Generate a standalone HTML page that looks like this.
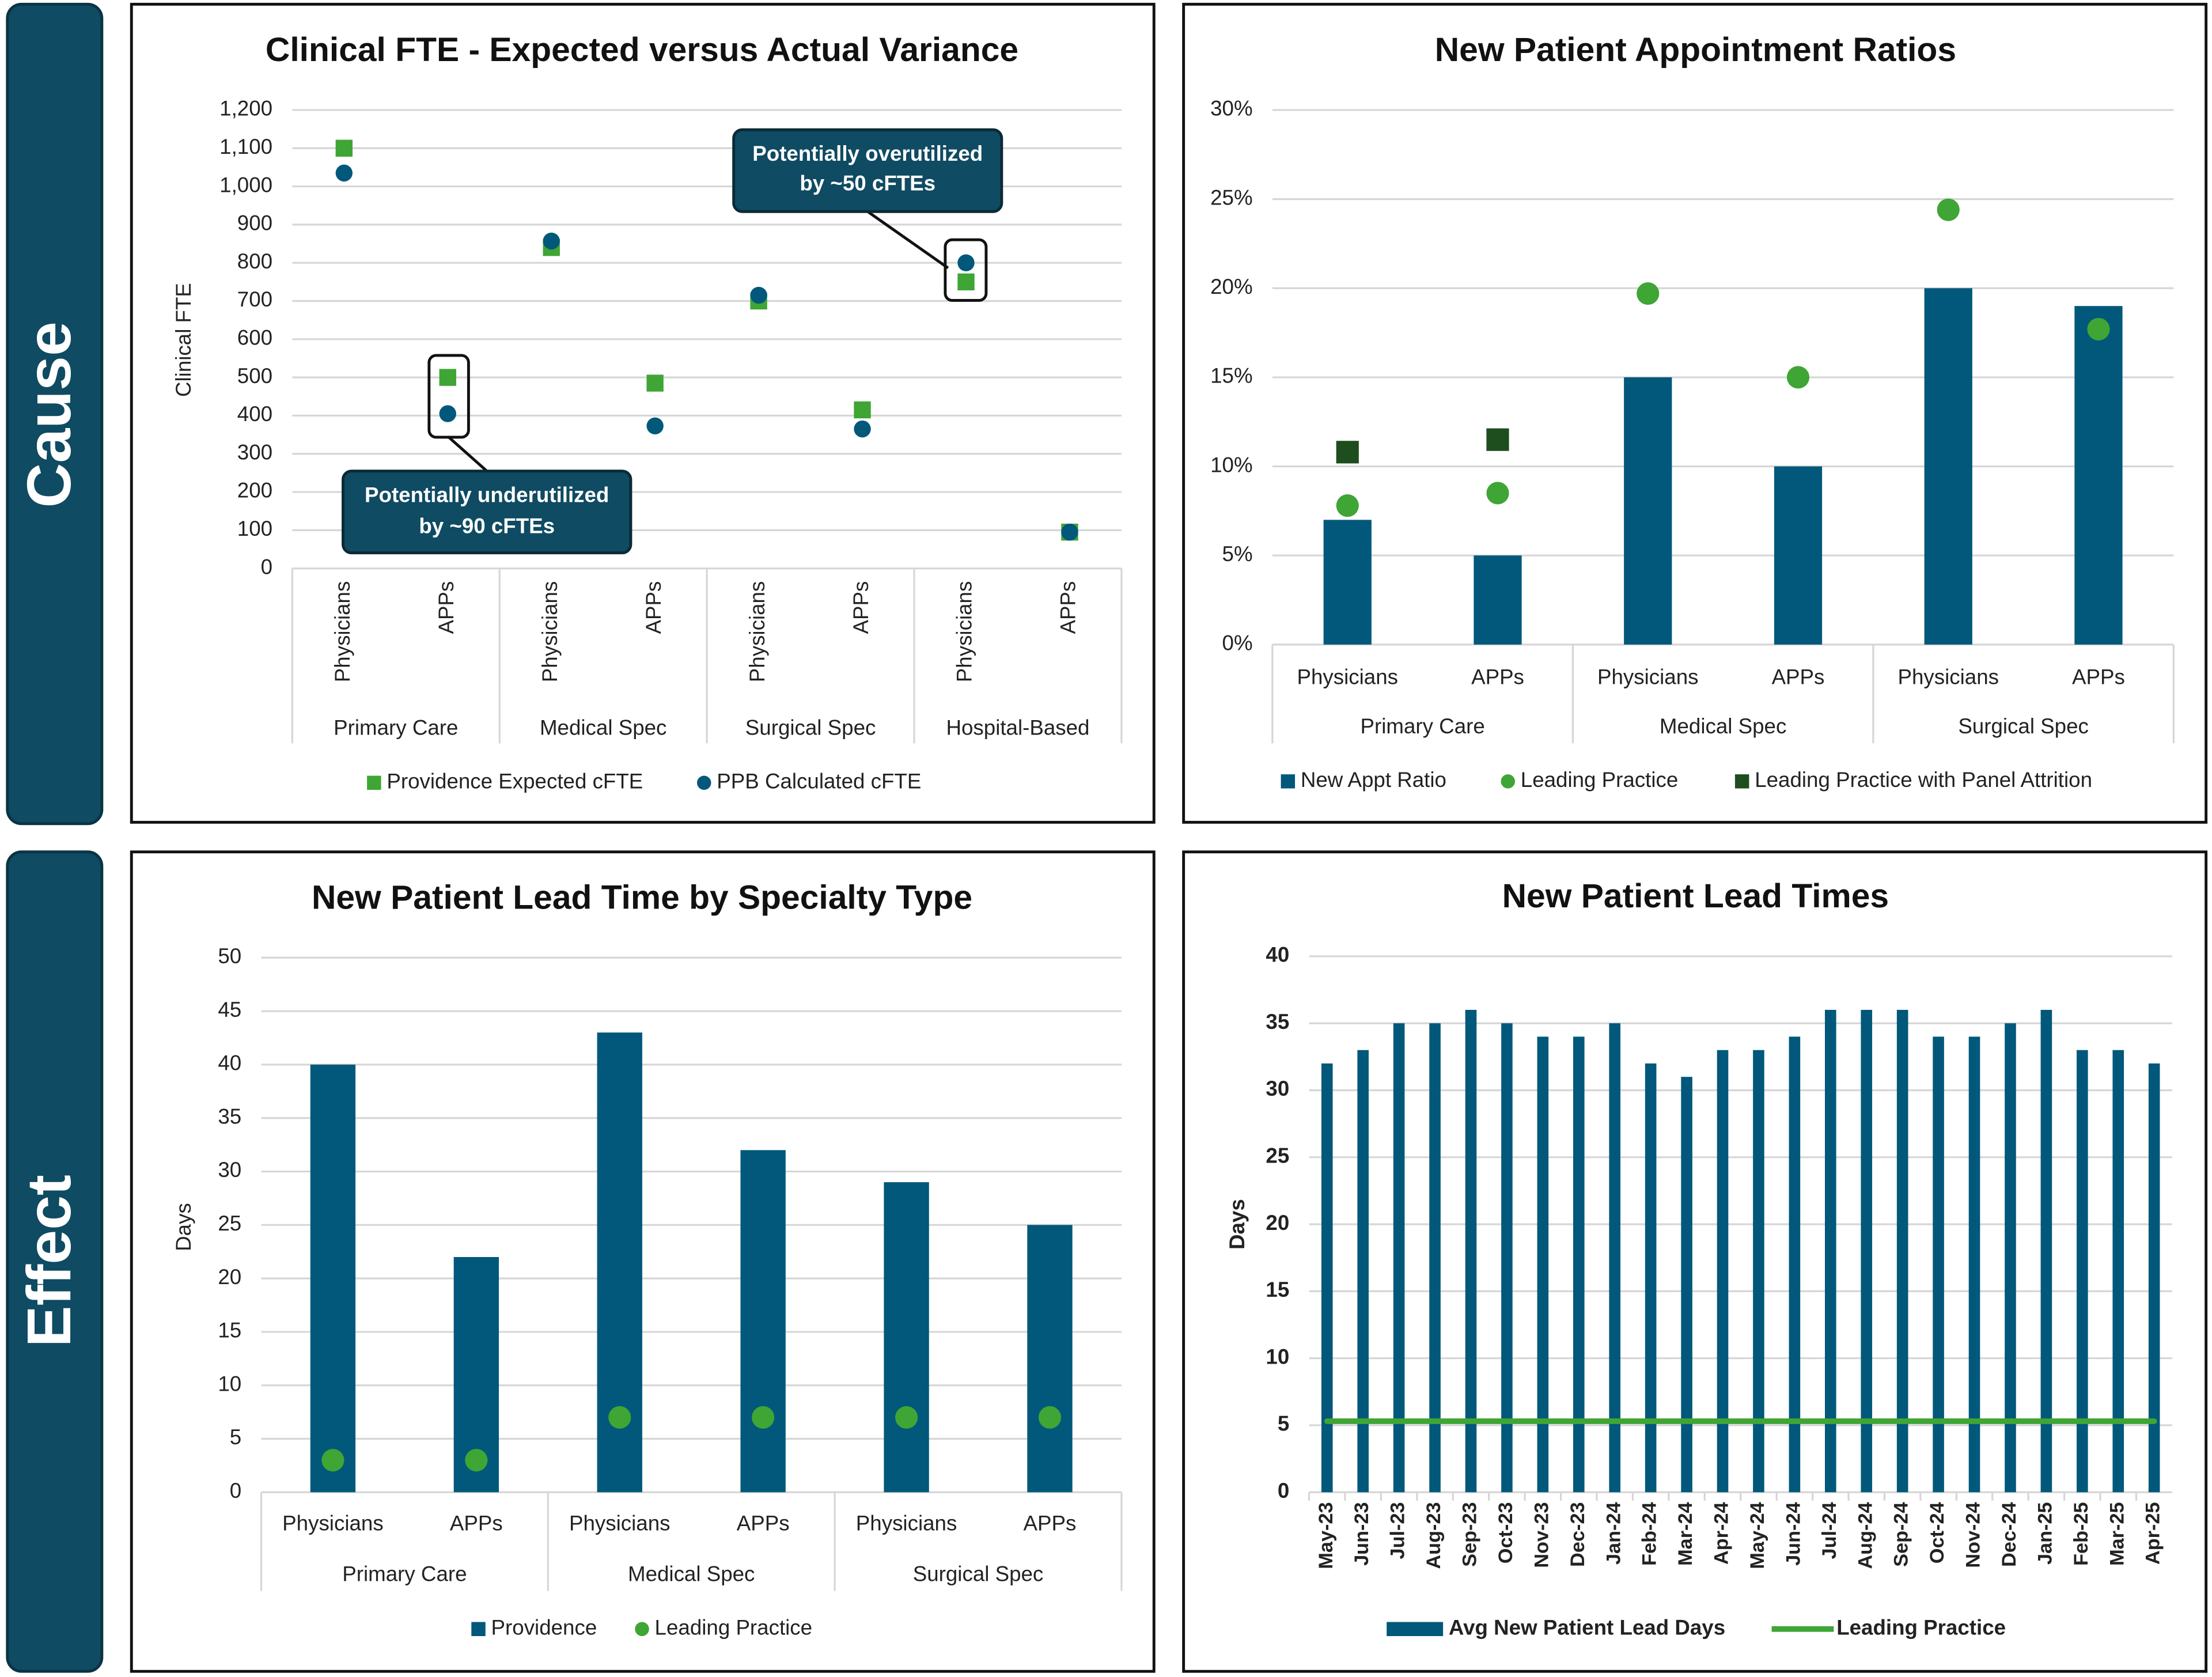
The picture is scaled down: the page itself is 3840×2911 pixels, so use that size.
<!DOCTYPE html>
<html><head><meta charset="utf-8"><style>
html,body{margin:0;padding:0;background:#fff;}
svg{display:block;font-family:"Liberation Sans",sans-serif;}
</style></head><body>
<svg id="s" width="3840" height="2911" viewBox="0 0 1568 1189" xmlns="http://www.w3.org/2000/svg">
<rect x="5" y="3" width="67" height="581" rx="10" fill="#0f4b62" stroke="#0a3444" stroke-width="2"/>
<text x="38" y="294" transform="rotate(-90 38 294)" text-anchor="middle" dominant-baseline="middle" font-size="44" font-weight="bold" fill="#fff">Cause</text>
<rect x="5" y="604" width="67" height="581" rx="10" fill="#0f4b62" stroke="#0a3444" stroke-width="2"/>
<text x="38" y="894" transform="rotate(-90 38 894)" text-anchor="middle" dominant-baseline="middle" font-size="44" font-weight="bold" fill="#fff">Effect</text>
<rect x="93" y="3" width="725" height="580" fill="#fff" stroke="#111" stroke-width="2"/>
<rect x="839" y="3" width="725" height="580" fill="#fff" stroke="#111" stroke-width="2"/>
<rect x="93" y="604" width="725" height="581" fill="#fff" stroke="#111" stroke-width="2"/>
<rect x="839" y="604" width="725" height="581" fill="#fff" stroke="#111" stroke-width="2"/>
<g id="g1"></g>
<g id="g2"></g>
<g id="g3"></g>
<g id="g4"></g>
</svg>
<script>
// ---- data ----
const fteCats = ["Physicians","APPs","Physicians","APPs","Physicians","APPs","Physicians","APPs"];
const fteGroups = ["Primary Care","Medical Spec","Surgical Spec","Hospital-Based"];
const fteExpected = [1100,500,840,485,700,415,750,95];
const fteCalculated = [1035,405,857,373,715,365,800,95];
const fteTicks = ["0","100","200","300","400","500","600","700","800","900","1,000","1,100","1,200"];

const apptCats = ["Physicians","APPs","Physicians","APPs","Physicians","APPs"];
const apptGroups = ["Primary Care","Medical Spec","Surgical Spec"];
const apptRatio = [7,5,15,10,20,19];
const apptLeading = [7.8,8.5,19.7,15,24.4,17.7];
const apptAttrition = [10.8,11.5,null,null,null,null];
const apptTicks = ["0%","5%","10%","15%","20%","25%","30%"];

const ltCats = ["Physicians","APPs","Physicians","APPs","Physicians","APPs"];
const ltGroups = ["Primary Care","Medical Spec","Surgical Spec"];
const ltProvidence = [40,22,43,32,29,25];
const ltLeading = [3,3,7,7,7,7];
const ltTicks = ["0","5","10","15","20","25","30","35","40","45","50"];

const months = ["May-23","Jun-23","Jul-23","Aug-23","Sep-23","Oct-23","Nov-23","Dec-23","Jan-24","Feb-24","Mar-24","Apr-24","May-24","Jun-24","Jul-24","Aug-24","Sep-24","Oct-24","Nov-24","Dec-24","Jan-25","Feb-25","Mar-25","Apr-25"];
const leadDays = [32,33,35,35,36,35,34,34,35,32,31,33,33,34,36,36,36,34,34,35,36,33,33,32];
const leadingPractice = [5.3];
const monthTicks = ["0","5","10","15","20","25","30","35","40"];

const NS="http://www.w3.org/2000/svg";
const BAR="#01587a", GREEN="#3fa535", DGREEN="#1e4d1e", GRID="#d6d6d6";
function mk(tag,a,p){const e=document.createElementNS(NS,tag);for(const k in a)e.setAttribute(k,a[k]);p.appendChild(e);return e;}
function tx(p,x,y,s,o){const e=mk('text',Object.assign({x:x,y:y,'font-size':15,fill:'#222','text-anchor':'middle','dominant-baseline':'middle'},o||{}),p);e.textContent=s;return e;}

function frame(g,title,tx0,ty0,x0,x1,yB,yT,ticks,bold){
  const t=tx(g,tx0,ty0,title,{'font-size':24,'font-weight':'bold',fill:'#111'});
  
  
  const n=ticks.length-1;
  ticks.forEach((lab,i)=>{const y=yB-(yB-yT)*i/n;
    const l=mk('line',{x1:x0,x2:x1,y1:y,y2:y,stroke:GRID,'stroke-width':1.3},g);
    
    
    const tl=tx(g,x0-14,y,lab,{'text-anchor':'end','font-weight':bold?'bold':'normal'});
    
    
  });
}
function groupAxis(g,cats,groups,x0,x1,yB,yEnd,catY,grpY,rot){
  const w=(x1-x0)/cats.length, per=cats.length/groups.length;
  for(let i=0;i<=groups.length;i++){const x=x0+i*per*w;
    const l=mk('line',{x1:x,x2:x,y1:yB,y2:yEnd,stroke:GRID,'stroke-width':1.3},g);
    
    }
  cats.forEach((c,i)=>{const x=x0+(i+.5)*w;let t;
    if(rot){t=tx(g,x,catY,c,{transform:`rotate(-90 ${x} ${catY})`,'text-anchor':'end'});}
    else t=tx(g,x,catY,c);
    
    });
  groups.forEach((c,i)=>{const t=tx(g,x0+(i+.5)*per*w,grpY,c);
    
    });
  return w;
}
function legend(g,items,y){
  items.forEach(it=>{let m;
    if(it.t==='sq')m=mk('rect',{x:it.x-5,y:y-5,width:10,height:10,fill:it.c},g);
    else if(it.t==='ci')m=mk('circle',{cx:it.x,cy:y,r:5,fill:it.c},g);
    else if(it.t==='bar')m=mk('rect',{x:it.x-20,y:y-5,width:40,height:10,fill:it.c},g);
    else m=mk('line',{x1:it.x-22,x2:it.x+22,y1:y,y2:y,stroke:it.c,'stroke-width':4},g);
    
    
    const t=tx(g,it.x+(it.t==='bar'||it.t==='ln'?24:9),y,it.s,{'text-anchor':'start','font-weight':it.b?'bold':'normal'});
    
    });
}

// ---- chart 1 ----
(function(){const g=document.getElementById('g1');
 const x0=207,x1=795,yB=403,yT=78,max=1200;const Y=v=>yB-(yB-yT)*v/max;
 frame(g,"Clinical FTE - Expected versus Actual Variance",455,37,x0,x1,yB,yT,fteTicks);
 const yt=tx(g,131,241,"Clinical FTE",{transform:"rotate(-90 131 241)"});
 
 
 const w=groupAxis(g,fteCats,fteGroups,x0,x1,yB,527,412,517,true);
 fteExpected.forEach((v,i)=>{const x=x0+(i+.5)*w;
   const r=mk('rect',{x:x-6,y:Y(v)-6,width:12,height:12,fill:GREEN},g);
   
   });
 fteCalculated.forEach((v,i)=>{const x=x0+(i+.5)*w;
   const c=mk('circle',{cx:x,cy:Y(v),r:6,fill:BAR},g);
   
   });
 // callouts
 const h1=mk('rect',{x:304,y:252,width:28,height:58,rx:5,fill:'none',stroke:'#111','stroke-width':2},g);
 
 
 const l1=mk('line',{x1:318,y1:310,x2:345,y2:334,stroke:'#111','stroke-width':2},g);
 
 
 const b1=mk('rect',{x:243,y:334,width:204,height:58,rx:6,fill:'#0f4b62',stroke:'#0a2a36','stroke-width':2},g);
 
 
 let t=tx(g,345,352,"Potentially underutilized",{fill:'#fff','font-weight':'bold'});
 t=tx(g,345,374,"by ~90 cFTEs",{fill:'#fff','font-weight':'bold'});
 const h2=mk('rect',{x:670,y:170,width:29,height:43,rx:5,fill:'none',stroke:'#111','stroke-width':2},g);
 
 
 const l2=mk('line',{x1:615,y1:150,x2:672,y2:190,stroke:'#111','stroke-width':2},g);
 
 
 const b2=mk('rect',{x:520,y:92,width:190,height:58,rx:6,fill:'#0f4b62',stroke:'#0a2a36','stroke-width':2},g);
 
 
 t=tx(g,615,110,"Potentially overutilized",{fill:'#fff','font-weight':'bold'});
 t=tx(g,615,131,"by ~50 cFTEs",{fill:'#fff','font-weight':'bold'});
 legend(g,[{t:'sq',c:GREEN,x:265,s:"Providence Expected cFTE"},{t:'ci',c:BAR,x:499,s:"PPB Calculated cFTE"}],555);
})();

// ---- chart 2 ----
(function(){const g=document.getElementById('g2');
 const x0=902,x1=1541,yB=457,yT=78,max=30;const Y=v=>yB-(yB-yT)*v/max;
 frame(g,"New Patient Appointment Ratios",1202,37,x0,x1,yB,yT,apptTicks);
 const w=groupAxis(g,apptCats,apptGroups,x0,x1,yB,527,481,516,false);
 apptRatio.forEach((v,i)=>{const x=x0+(i+.5)*w;
   const r=mk('rect',{x:x-17,y:Y(v),width:34,height:yB-Y(v),fill:BAR},g);
   
   });
 apptLeading.forEach((v,i)=>{const x=x0+(i+.5)*w;
   const c=mk('circle',{cx:x,cy:Y(v),r:8,fill:GREEN},g);
   
   });
 apptAttrition.forEach((v,i)=>{if(v==null)return;const x=x0+(i+.5)*w;
   const r=mk('rect',{x:x-8,y:Y(v)-8,width:16,height:16,fill:DGREEN},g);
   
   });
 legend(g,[{t:'sq',c:BAR,x:913,s:"New Appt Ratio"},{t:'ci',c:GREEN,x:1069,s:"Leading Practice"},{t:'sq',c:DGREEN,x:1235,s:"Leading Practice with Panel Attrition"}],554);
})();

// ---- chart 3 ----
(function(){const g=document.getElementById('g3');
 const x0=185,x1=795,yB=1058,yT=679,max=50;const Y=v=>yB-(yB-yT)*v/max;
 frame(g,"New Patient Lead Time by Specialty Type",455,638,x0,x1,yB,yT,ltTicks);
 const yt=tx(g,131,870,"Days",{transform:"rotate(-90 131 870)"});
 
 
 const w=groupAxis(g,ltCats,ltGroups,x0,x1,yB,1128,1081,1117,false);
 ltProvidence.forEach((v,i)=>{const x=x0+(i+.5)*w;
   const r=mk('rect',{x:x-16,y:Y(v),width:32,height:yB-Y(v),fill:BAR},g);
   
   });
 ltLeading.forEach((v,i)=>{const x=x0+(i+.5)*w;
   const c=mk('circle',{cx:x,cy:Y(v),r:8,fill:GREEN},g);
   
   });
 legend(g,[{t:'sq',c:BAR,x:339,s:"Providence"},{t:'ci',c:GREEN,x:455,s:"Leading Practice"}],1155);
})();

// ---- chart 4 ----
(function(){const g=document.getElementById('g4');
 const x0=928,x1=1540,yB=1058,yT=678,max=40;const Y=v=>yB-(yB-yT)*v/max;
 frame(g,"New Patient Lead Times",1202,637,x0,x1,yB,yT,monthTicks,true);
 const yt=tx(g,878,868,"Days",{transform:"rotate(-90 878 868)",'font-weight':'bold'});
 
 
 const w=(x1-x0)/months.length;
 months.forEach((m,i)=>{const x=x0+(i+.5)*w;
   const tk=mk('line',{x1:x0+i*w,x2:x0+i*w,y1:yB,y2:yB+6,stroke:GRID,'stroke-width':1.3},g);
   
   
   const t=tx(g,x,1065,m,{transform:`rotate(-90 ${x} 1065)`,'text-anchor':'end','font-weight':'bold','font-size':14});
   
   });
 leadDays.forEach((v,i)=>{const x=x0+(i+.5)*w;
   const r=mk('rect',{x:x-4,y:Y(v),width:8,height:yB-Y(v),fill:BAR},g);
   
   });
 const lp=mk('line',{x1:x0+.5*w,x2:x1-.5*w,y1:Y(leadingPractice[0]),y2:Y(leadingPractice[0]),stroke:GREEN,'stroke-width':4,'stroke-linecap':'round'},g);
 
 
 legend(g,[{t:'bar',c:BAR,x:1003,s:"Avg New Patient Lead Days",b:true},{t:'ln',c:GREEN,x:1278,s:"Leading Practice",b:true}],1155);
})();
</script>
</body></html>
